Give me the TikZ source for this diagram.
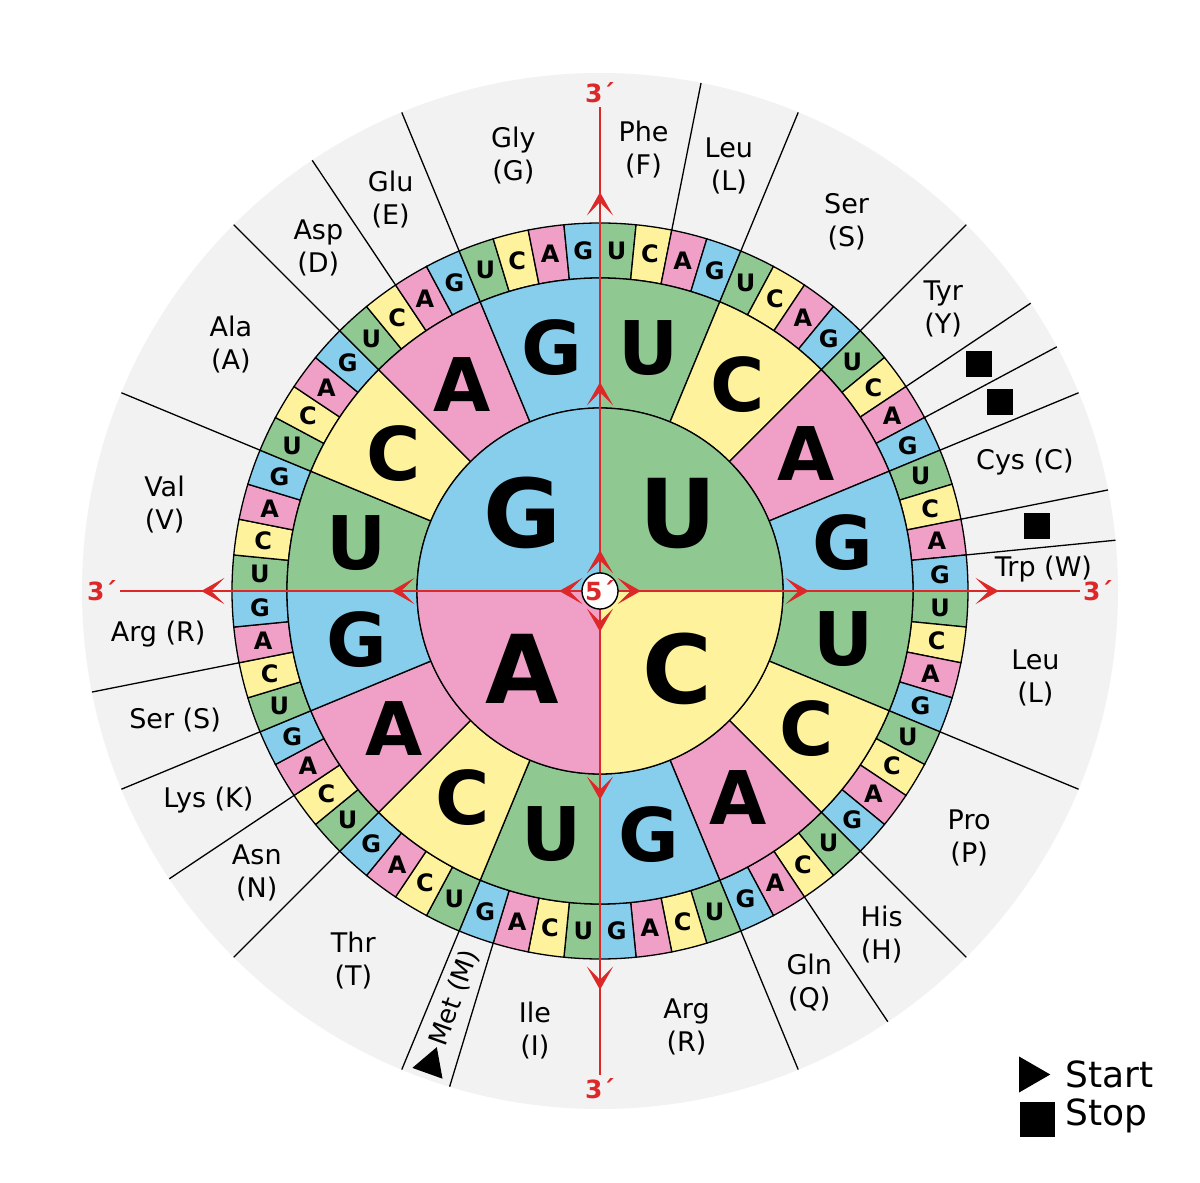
\documentclass[tikz,border=0pt]{standalone}
\usepackage{fontspec}
\setmainfont{DejaVu Sans}
\usepackage{tikz}
\usetikzlibrary{arrows.meta, decorations.markings, shapes.geometric}

\definecolor{baseU}{RGB}{144,200,146}
\definecolor{baseC}{RGB}{254,243,156}
\definecolor{baseA}{RGB}{240,160,198}
\definecolor{baseG}{RGB}{135,205,236}
\definecolor{axisred}{RGB}{220,40,40}

\begin{document}
\begin{tikzpicture}[
        >={Stealth[length=23pt,width=26pt,inset=13pt]},
        segment/.style={draw=black, line width=1.3pt},
        groupline/.style={draw=black, line width=1.3pt},
        first/.style={font=\fontsize{95}{95}\selectfont\bfseries},
        second/.style={font=\fontsize{74}{74}\selectfont\bfseries},
        third/.style={font=\fontsize{24}{24}\selectfont\bfseries, inner sep=0pt},
        amino/.style={font=\fontsize{27}{33}\selectfont, align=center},
        endlabel/.style={text=axisred, font=\fontsize{25}{25}\selectfont\bfseries},
        axis/.style={draw=axisred, color=axisred, line width=2pt, postaction={decorate},
            decoration={markings,
                mark=at position 22pt with {\arrow{>}},
                mark=at position 190pt with {\arrow{>}},
                mark=at position 380pt with {\arrow{>}}}},
        stopmark/.style={fill=black, minimum size=26pt, inner sep=0pt},
        startmark/.style={regular polygon, regular polygon sides=3, fill=black, inner sep=0pt}
    ]
            \def\rA{183pt}
            \def\rB{313pt}
            \def\rC{368pt}
            \def\rD{518pt}

            \useasboundingbox (-600pt,-592pt) rectangle (600pt,591pt);
            \fill[white] (-600pt,-592pt) rectangle (600pt,591pt);

            % grey disc
            \fill[black!5] (0,0) circle (\rD);

            % lines between the amino acids
            \foreach \ang in {78.75,67.5,45,33.75,28.125,22.5,11.25,5.625,
                -22.5,-45,-56.25,-67.5,-106.875,-112.5,-135,-146.25,-157.5,-168.75,
                157.5,135,123.75,112.5}
            {
                \draw[groupline] (\ang:\rC) -- (\ang:\rD);
            }

            % third base
            \foreach \i/\bi in {0/U,1/C,2/A,3/G}{
                \foreach \j/\bj in {0/U,1/C,2/A,3/G}{
                    \foreach \k/\bk in {0/U,1/C,2/A,3/G}{
                        \pgfmathsetmacro\sa{90-90*\i-22.5*\j-5.625*\k}
                        \pgfmathsetmacro\ea{\sa-5.625}
                        \pgfmathsetmacro\ma{\sa-2.8125}
                        \filldraw[segment, fill=base\bk]
                            (\sa:\rB) arc[start angle=\sa, end angle=\ea, radius=\rB]
                            -- (\ea:\rC) arc[start angle=\ea, end angle=\sa, radius=\rC] -- cycle;
                        \node[third] (n\bi\bj\bk) at (\ma:340.5pt) {\bk};
                    }
                }
            }

            % second base
            \foreach \i/\bi in {0/U,1/C,2/A,3/G}{
                \foreach \j/\bj in {0/U,1/C,2/A,3/G}{
                    \pgfmathsetmacro\sa{90-90*\i-22.5*\j}
                    \pgfmathsetmacro\ea{\sa-22.5}
                    \pgfmathsetmacro\ma{\sa-11.25}
                    \filldraw[segment, fill=base\bj]
                        (\sa:\rA) arc[start angle=\sa, end angle=\ea, radius=\rA]
                        -- (\ea:\rB) arc[start angle=\ea, end angle=\sa, radius=\rB] -- cycle;
                    \node[second] (n\bi\bj) at (\ma:248pt) {\bj};
                }
            }

            % first base
            \foreach \i/\bi in {0/U,1/C,2/A,3/G}{
                \pgfmathsetmacro\sa{90-90*\i}
                \pgfmathsetmacro\ea{\sa-90}
                \pgfmathsetmacro\ma{\sa-45}
                \filldraw[segment, fill=base\bi]
                    (0,0) -- (\sa:\rA) arc[start angle=\sa, end angle=\ea, radius=\rA] -- cycle;
                \node[first] (n\bi) at (\ma:110pt) {\bi};
            }

            % amino acids
            \foreach \ang/\txt [count=\n] in {84.375/{Phe\\(F)}, 73.125/{Leu\\(L)},
                56.25/{Ser\\(S)}, 39.375/{Tyr\\(Y)}, 16.875/{Cys (C)}, 2.8125/{Trp (W)},
                -11.25/{Leu\\(L)}, -33.75/{Pro\\(P)}, -50.625/{His\\(H)}, -61.875/{Gln\\(Q)},
                -78.75/{Arg\\(R)}, -98.4375/{Ile\\(I)}, -123.75/{Thr\\(T)}, -140.625/{Asn\\(N)},
                -151.875/{Lys (K)}, -163.125/{Ser (S)}, -174.375/{Arg (R)}, 168.75/{Val\\(V)},
                146.25/{Ala\\(A)}, 129.375/{Asp\\(D)}, 118.125/{Glu\\(E)}, 101.25/{Gly\\(G)}}
            {
                \node[amino] (aa\n) at (\ang:444pt) {\txt};
            }
            \node[amino, font=\fontsize{26}{26}\selectfont, inner sep=0pt, rotate=70.3125] (met) at (-109.6875:432pt) {Met (M)};
            \node[startmark, minimum size=37pt, rotate=-19.6875] (metstart) at (-109.6875:503pt) {};

            % stop codons
            \foreach \ang [count=\n] in {30.9375, 25.3125, 8.4375}
            {
                \node[stopmark] (stop\n) at (\ang:442pt) {};
            }

            % reading direction
            \node[circle, draw=black, fill=white, line width=1.4pt, minimum size=36pt, inner sep=0pt,
                text=axisred, font=\fontsize{25}{25}\selectfont\bfseries] (five) at (0,0) {5´};
            \foreach \ang [count=\n] in {90,0,-90,180}
            {
                \node[endlabel] (three\n) at (\ang:498pt) {3´};
                \draw[axis] (five) -- (three\n);
            }

            % legend
            \node[startmark, minimum size=41.5pt, rotate=-90] (legstart) at (429.5pt,-483.5pt) {};
            \node[stopmark, minimum size=35pt] (legstop) at (437pt,-528pt) {};
            \node[anchor=base west, inner sep=0pt, font=\fontsize{36}{36}\selectfont] (starttext) at (465pt,-496pt) {Start};
            \node[anchor=base west, inner sep=0pt, font=\fontsize{36}{36}\selectfont] (stoptext) at (465pt,-534pt) {Stop};
        \end{tikzpicture}
\end{document}
